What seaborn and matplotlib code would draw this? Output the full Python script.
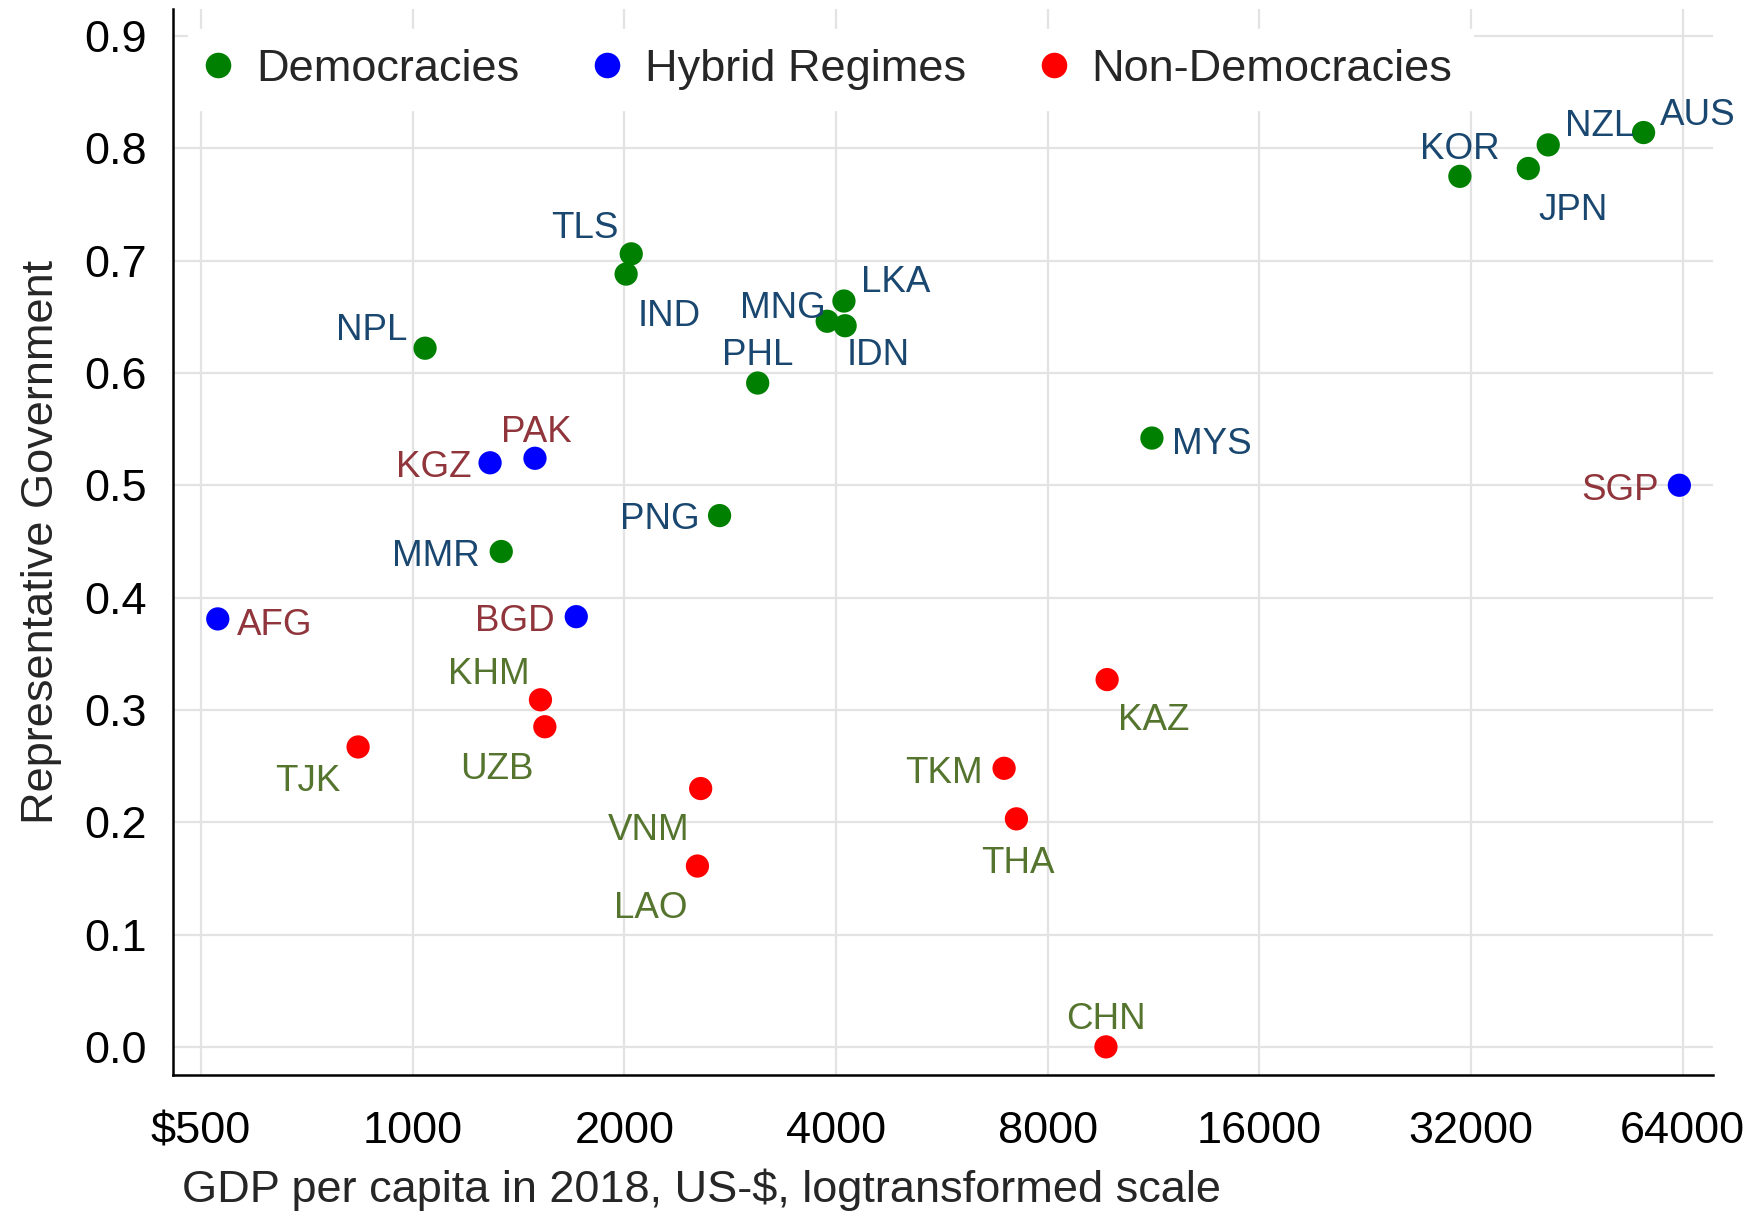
import numpy as np
import pandas as pd
import matplotlib
matplotlib.use("Agg")
import matplotlib.pyplot as plt
import seaborn as sns

# ---------------- data ----------------
countries = ["NPL", "TLS", "IND", "MNG", "LKA", "IDN", "PHL", "PNG", "MMR", "MYS",
             "KOR", "JPN", "NZL", "AUS",
             "KGZ", "PAK", "AFG", "BGD", "SGP",
             "KHM", "UZB", "TJK", "VNM", "LAO", "KAZ", "TKM", "THA", "CHN"]
gdp = [1041, 2045, 2011, 3885, 4104, 4120, 3094, 2731, 1336, 11252,
       30850, 38600, 41200, 56300,
       1288, 1492, 528, 1708, 63300,
       1519, 1541, 836, 2567, 2540, 9717, 6934, 7220, 9680]
rep_gov = [0.622, 0.706, 0.688, 0.646, 0.664, 0.642, 0.591, 0.473, 0.441, 0.542,
           0.775, 0.782, 0.803, 0.814,
           0.520, 0.524, 0.381, 0.383, 0.500,
           0.309, 0.285, 0.267, 0.230, 0.161, 0.327, 0.248, 0.203, 0.000]
regime = (["Democracies"] * 14 + ["Hybrid Regimes"] * 5 + ["Non-Democracies"] * 9)

regime_order = ["Democracies", "Hybrid Regimes", "Non-Democracies"]
x_ticks = [500, 1000, 2000, 4000, 8000, 16000, 32000, 64000]
x_tick_labels = ["\\$500", "1000", "2000", "4000", "8000", "16000", "32000", "64000"]
y_ticks = [0.0, 0.1, 0.2, 0.3, 0.4, 0.5, 0.6, 0.7, 0.8, 0.9]

# ---------------- styling ----------------
point_colors = {"Democracies": "#008000", "Hybrid Regimes": "#0000ff",
                "Non-Democracies": "#ff0000"}
label_colors = {"Democracies": "#1a476f", "Hybrid Regimes": "#90353b",
                "Non-Democracies": "#55752f"}
# label placement: (anchor, dx, dy) in reference pixels
label_pos = {
    "NPL": ("right", -16, 19), "TLS": ("right", -11, 26), "IND": ("left", 10, -34),
    "MNG": ("right", -1, 15), "LKA": ("left", 15, 20), "IDN": ("left", 1, -23),
    "PHL": ("center", 0, 28), "PNG": ("right", -18, 0), "MMR": ("right", -19, -1),
    "MYS": ("left", 18, -2), "KOR": ("center", 0, 28), "JPN": ("left", 9, -34),
    "NZL": ("left", 15, 20), "AUS": ("left", 15, 19), "KGZ": ("right", -17, -1),
    "PAK": ("center", 1, 27), "AFG": ("left", 17, -2), "BGD": ("right", -19, -1),
    "SGP": ("right", -18, -1), "KHM": ("right", -10, 26), "UZB": ("right", -10, -35),
    "TJK": ("right", -16, -27), "VNM": ("right", -10, -34), "LAO": ("right", -9, -34),
    "KAZ": ("left", 10, -33), "TKM": ("right", -19, -1), "THA": ("center", 1, -36),
    "CHN": ("center", 0, 28),
}
PX2PT = 0.805

sns.set_theme(style="white")
plt.rcParams["font.family"] = ["Liberation Sans", "DejaVu Sans"]

df = pd.DataFrame({"country": countries, "gdp": gdp, "rep": rep_gov, "regime": regime})

fig = plt.figure(figsize=(17.53, 12.13), dpi=100)
ax = fig.add_axes([0.0987, 0.1138, 0.8783, 0.8788])

ax.set_xscale("log", base=2)
sns.scatterplot(data=df, x="gdp", y="rep", hue="regime", hue_order=regime_order,
                palette=point_colors, s=280, edgecolor="none", linewidth=0,
                ax=ax, zorder=3)

for c, xv, yv, rg in zip(countries, gdp, rep_gov, regime):
    ha, dx, dy = label_pos[c]
    ax.annotate(c, (xv, yv), xytext=(dx * PX2PT, dy * PX2PT), textcoords="offset points",
                ha=ha, va="center_baseline", fontsize=26.5, color=label_colors[rg], zorder=4)

ax.set_xlim(456, 70600)
ax.set_ylim(-0.025, 0.924)
ax.set_xticks(x_ticks)
ax.set_xticklabels(x_tick_labels)
ax.xaxis.set_minor_locator(matplotlib.ticker.NullLocator())
ax.set_yticks(y_ticks)
ax.set_yticklabels([f"{v:.1f}" for v in y_ticks])

ax.grid(True, color="#e3e3e3", linewidth=1.6, zorder=0)
ax.set_axisbelow(True)
for s in ["top", "right"]:
    ax.spines[s].set_visible(False)
for s in ["left", "bottom"]:
    ax.spines[s].set_color("black")
    ax.spines[s].set_linewidth(1.8)

ax.tick_params(axis="both", which="major", direction="out", length=13, width=1.6,
               color="black", labelsize=32.5, labelcolor="black")
ax.tick_params(axis="x", pad=13)
ax.tick_params(axis="y", pad=6)

ax.set_xlabel("GDP per capita in 2018, US-\\$, logtransformed scale", fontsize=32.5)
ax.set_ylabel("Representative Government", fontsize=32.5)
ax.xaxis.set_label_coords(0.343, -0.088)
ax.yaxis.set_label_coords(-0.072, 0.5)

handles, labels = ax.get_legend_handles_labels()
leg = ax.legend(handles, labels, loc="upper left", bbox_to_anchor=(0.0097, 0.9815),
                ncol=3, frameon=True, fancybox=False, fontsize=32.5,
                markerscale=1.1, handletextpad=0.62, columnspacing=1.72,
                borderpad=0.45, borderaxespad=0, handlelength=0.44)
leg.get_frame().set_facecolor("white")
leg.get_frame().set_edgecolor("white")
leg.get_frame().set_alpha(1)

fig.savefig("out.png", dpi=100)
